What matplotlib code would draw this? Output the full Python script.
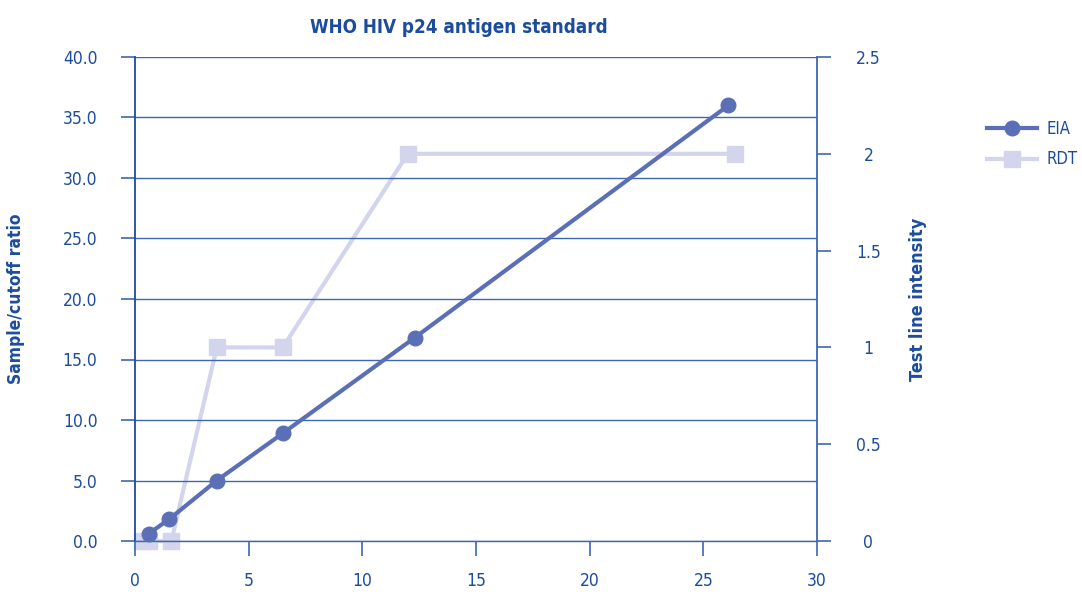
import matplotlib
matplotlib.use("Agg")
import matplotlib.pyplot as plt
from matplotlib.lines import Line2D

plt.rcParams['font.family'] = ['DejaVu Sans']
plt.rcParams['font.stretch'] = 'condensed'

title = "WHO HIV p24 antigen standard"
eia_x = [0.6, 1.5, 3.6, 6.5, 12.3, 26.1]
eia_y = [0.6, 1.8, 5.0, 8.9, 16.8, 36.0]
rdt_x = [0.3, 0.6, 1.6, 3.6, 6.5, 12.0, 26.4]
rdt_y = [0, 0, 0, 1, 1, 2, 2]
left_ticks = [0, 5, 10, 15, 20, 25, 30, 35, 40]
right_ticks = [0, 0.5, 1, 1.5, 2, 2.5]
right_labels = ["0", "0.5", "1", "1.5", "2", "2.5"]
x_ticks = [0, 5, 10, 15, 20, 25, 30]

TXT = "#1c4c9b"
GRID = "#3d68b0"
EIA_C = "#5b6fb7"
RDT_C = "#d2d5eb"

fig = plt.figure(figsize=(10.82, 5.94), dpi=100)
ax = fig.add_axes([135/1082, 1-541/594, 682/1082, (541-57)/594])
ax2 = ax.twinx()

ax.set_xlim(0, 30)
ax.set_ylim(0, 40)
ax2.set_ylim(0, 2.5)

ax.set_yticks(left_ticks)
ax.set_yticklabels([f"{v:.1f}" for v in left_ticks])
ax2.set_yticks(right_ticks)
ax2.set_yticklabels(right_labels)
ax.set_xticks(x_ticks)
ax.set_xticklabels([str(v) for v in x_ticks])

for a in (ax, ax2):
    for s in a.spines.values():
        s.set_visible(False)

ax.yaxis.grid(True, color=GRID, lw=1.0)
ax.set_axisbelow(True)
ax.spines['left'].set_visible(True)
ax.spines['left'].set_color(TXT)
ax.spines['left'].set_linewidth(1.3)
ax2.spines['right'].set_visible(True)
ax2.spines['right'].set_color(GRID)
ax2.spines['right'].set_linewidth(1.3)
ax.spines['bottom'].set_visible(True)
ax.spines['bottom'].set_color(GRID)
ax.spines['bottom'].set_linewidth(1.0)

ax.tick_params(axis='y', direction='out', length=10, width=1.2, color=GRID,
               labelcolor=TXT, labelsize=12.5, pad=17)
ax.tick_params(axis='x', direction='out', length=11, width=1.2, color=GRID,
               labelcolor=TXT, labelsize=12.5, pad=11)
ax2.tick_params(axis='y', direction='out', length=10, width=1.2, color=GRID,
                labelcolor=TXT, labelsize=12.5, pad=27)
for lab in ax2.get_yticklabels():
    lab.set_horizontalalignment('center')

ax.set_ylabel("Sample/cutoff ratio", color=TXT, fontsize=12.5, fontweight='bold', labelpad=27)
ax2.set_ylabel("Test line intensity", color=TXT, fontsize=13, fontweight='bold', labelpad=20)
ax.set_title(title, color=TXT, fontsize=13.5, fontweight='bold', pad=17, x=0.475)

ax2.plot(rdt_x, rdt_y, color=RDT_C, lw=3, marker='s', ms=11.5, mfc=RDT_C, mec=RDT_C,
         clip_on=False, zorder=2)
ax.plot(eia_x, eia_y, color=EIA_C, lw=3, marker='o', ms=10.5, mfc=EIA_C, mec=EIA_C,
        clip_on=False, zorder=3)
ax.set_zorder(ax2.get_zorder() + 1)
ax.patch.set_visible(False)

handles = [Line2D([], [], color=EIA_C, lw=3, marker='o', ms=10.5),
           Line2D([], [], color=RDT_C, lw=3, marker='s', ms=11.5)]
fig.legend(handles, ["EIA", "RDT"], loc='upper left', bbox_to_anchor=(972/1082, 1-105/594),
           frameon=False, fontsize=12, labelcolor=TXT, handlelength=3.0,
           handletextpad=0.6, labelspacing=0.75)

fig.savefig("out.png", dpi=100)
